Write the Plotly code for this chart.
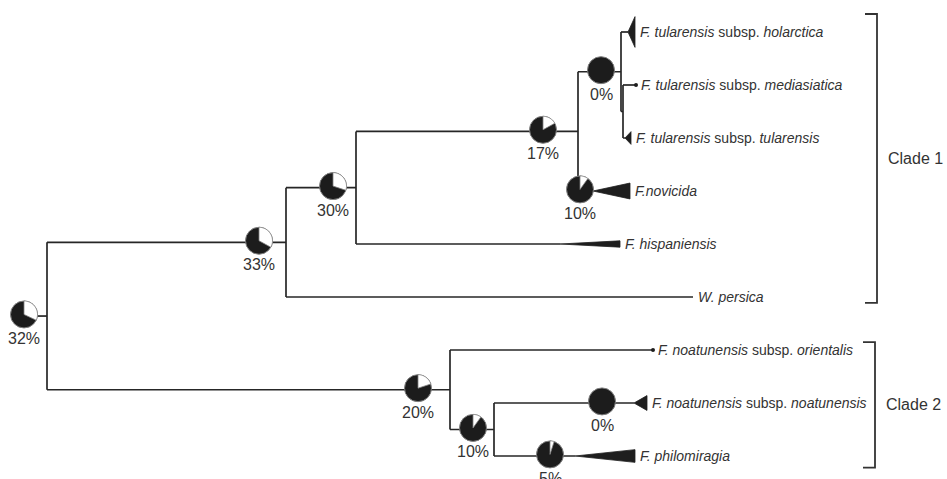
import numpy as np
import plotly.graph_objects as go

# ---------------- data ----------------
# leaves, top to bottom (leaf index = vertical order)
leaf_ids = ["holarctica", "mediasiatica", "tularensis", "novicida", "hispaniensis",
            "persica", "orientalis", "noatunensis", "philomiragia"]
leaf_labels = [
    "<i>F. tularensis</i> subsp. <i>holarctica</i>",
    "<i>F. tularensis</i> subsp. <i>mediasiatica</i>",
    "<i>F. tularensis</i> subsp. <i>tularensis</i>",
    "<i>F.novicida</i>",
    "<i>F. hispaniensis</i>",
    "<i>W. persica</i>",
    "<i>F. noatunensis</i> subsp. <i>orientalis</i>",
    "<i>F. noatunensis</i> subsp. <i>noatunensis</i>",
    "<i>F. philomiragia</i>",
]
# distance (tree scale) where terminal branch ends / collapsed clade wedge begins and ends
leaf_branch_end = [628, 636, 625, 593, 560, 693, 653, 634, 575]
leaf_wedge_end = [635, 636, 631, 630, 620, 693, 653, 647, 635]
# half-height of collapsed-clade wedge (leaf units); 0 = single tip
leaf_wedge_half = [0.29, 0, 0.12, 0.15, 0.06, 0, 0, 0.14, 0.12]
leaf_dot = [False, True, False, False, False, False, True, False, False]

# internal nodes
node_ids = ["root", "A", "C", "D", "E", "F", "B", "G"]
node_x = [47, 286, 356, 578, 621, 623, 450, 494]
node_children = [["A", "B"], ["C", "persica"], ["D", "hispaniensis"], ["E", "novicida"],
                 ["holarctica", "F"], ["mediasiatica", "tularensis"],
                 ["orientalis", "G"], ["noatunensis", "philomiragia"]]
root_stub_x = 24

# node support pies (percent = white slice)
pie_nodes = ["root", "A", "C", "D", "E", "novicida", "B", "G", "noatunensis", "philomiragia"]
pie_x = [24, 259, 333, 543, 601, 580, 418, 473, 602, 550]
pie_pct = [32, 33, 30, 17, 0, 10, 20, 10, 0, 5]

# clades
clade_names = ["Clade 1", "Clade 2"]
clade_first_leaf = ["holarctica", "orientalis"]
clade_last_leaf = ["persica", "philomiragia"]

# ---------------- layout constants ----------------
W, H = 947, 479
PX_PER_LEAF = 53.0
TOP_PX = 32.0
LINE_COL = "#262626"
TEXT_COL = "#333333"
FONT = "Liberation Sans, Arial, Helvetica, sans-serif"
PIE_R = 13.5
PIE_LIFT = 0.03  # pies sit slightly above their branch line
BRACKETS = [dict(x=877, tick=12, pad_top=0.34, pad_bot=0.11),
            dict(x=875, tick=12, pad_top=0.15, pad_bot=0.22)]

yr = [(H - TOP_PX) / PX_PER_LEAF, -TOP_PX / PX_PER_LEAF]

# ---------------- tree geometry ----------------
ypos = {lid: float(i) for i, lid in enumerate(leaf_ids)}
xpos = {lid: leaf_branch_end[i] for i, lid in enumerate(leaf_ids)}
children = dict(zip(node_ids, node_children))
for nid, nx in zip(node_ids, node_x):
    xpos[nid] = nx


def get_y(n):
    if n not in ypos:
        ypos[n] = float(np.mean([get_y(c) for c in children[n]]))
    return ypos[n]


for nid in node_ids:
    get_y(nid)

lx, ly = [], []
lx += [root_stub_x, xpos["root"], None]
ly += [ypos["root"], ypos["root"], None]
for nid in node_ids:
    cy = [ypos[c] for c in children[nid]]
    lx += [xpos[nid], xpos[nid], None]
    ly += [min(cy), max(cy), None]
    for c in children[nid]:
        lx += [xpos[nid], xpos[c], None]
        ly += [ypos[c], ypos[c], None]

fig = go.Figure()
fig.add_trace(go.Scatter(x=lx, y=ly, mode="lines", line=dict(color=LINE_COL, width=1.7),
                         hoverinfo="skip", showlegend=False))

# collapsed clade wedges
for i, lid in enumerate(leaf_ids):
    h = leaf_wedge_half[i]
    if h > 0:
        x0, x1, y0 = leaf_branch_end[i], leaf_wedge_end[i], ypos[lid]
        fig.add_trace(go.Scatter(x=[x0, x1, x1, x0], y=[y0, y0 - h, y0 + h, y0],
                                 mode="lines", fill="toself", fillcolor="#1e1e1e",
                                 line=dict(color="#1e1e1e", width=0.8),
                                 hoverinfo="skip", showlegend=False))
dx = [leaf_branch_end[i] for i in range(len(leaf_ids)) if leaf_dot[i]]
dy = [ypos[leaf_ids[i]] for i in range(len(leaf_ids)) if leaf_dot[i]]
fig.add_trace(go.Scatter(x=dx, y=dy, mode="markers", marker=dict(color="#1e1e1e", size=4),
                         hoverinfo="skip", showlegend=False))

shapes = []
annotations = []
ry = PIE_R / PX_PER_LEAF
for n, px, pct in zip(pie_nodes, pie_x, pie_pct):
    cy = ypos[n] - PIE_LIFT
    shapes.append(dict(type="circle", xref="x", yref="y", x0=px - PIE_R, x1=px + PIE_R,
                       y0=cy - ry, y1=cy + ry, fillcolor="#1c1c1c",
                       line=dict(color="#808080", width=1)))
    if pct > 0:
        th = np.linspace(0, 2 * np.pi * pct / 100.0, 40)
        pts = [f"{px + PIE_R * np.sin(t):.3f},{cy - ry * np.cos(t):.4f}" for t in th]
        path = f"M {px},{cy:.4f} L " + " L ".join(pts) + " Z"
        shapes.append(dict(type="path", xref="x", yref="y", path=path, fillcolor="white",
                           line=dict(color="#808080", width=0.8)))
    annotations.append(dict(x=px, y=cy, xref="x", yref="y", text=f"{pct}%", showarrow=False,
                            yshift=-24, font=dict(family=FONT, size=16, color=TEXT_COL)))

for i, lid in enumerate(leaf_ids):
    annotations.append(dict(x=leaf_wedge_end[i], y=ypos[lid], xref="x", yref="y",
                            text=leaf_labels[i], showarrow=False, xanchor="left", xshift=3,
                            font=dict(family=FONT, size=14, color=TEXT_COL)))

for name, f, l, b in zip(clade_names, clade_first_leaf, clade_last_leaf, BRACKETS):
    y0 = ypos[f] - b["pad_top"]
    y1 = ypos[l] + b["pad_bot"]
    path = (f"M {b['x'] - b['tick']},{y0} L {b['x']},{y0} L {b['x']},{y1} "
            f"L {b['x'] - b['tick']},{y1}")
    shapes.append(dict(type="path", xref="x", yref="y", path=path,
                       line=dict(color="#333333", width=1.8)))
    annotations.append(dict(x=b["x"], y=(y0 + y1) / 2, xref="x", yref="y", text=name,
                            showarrow=False, xanchor="left", xshift=9,
                            font=dict(family=FONT, size=16, color=TEXT_COL)))

fig.update_layout(
    width=W, height=H, margin=dict(l=0, r=0, t=0, b=0),
    paper_bgcolor="white", plot_bgcolor="white",
    xaxis=dict(range=[0, W], visible=False, fixedrange=True),
    yaxis=dict(range=yr, visible=False, fixedrange=True),
    shapes=shapes, annotations=annotations, showlegend=False,
)

fig.write_html("out.html", config={"displayModeBar": False},
               post_script="document.body.style.margin='0';")
